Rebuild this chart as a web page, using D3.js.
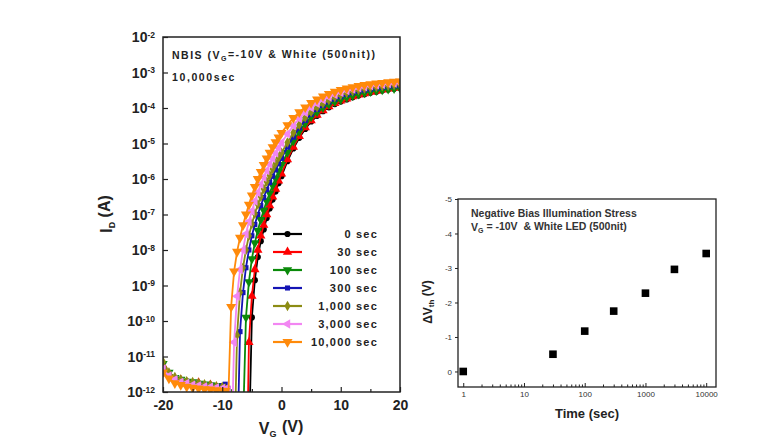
<!DOCTYPE html>
<html><head><meta charset="utf-8">
<script src="https://cdn.jsdelivr.net/npm/d3@7"></script>
<style>body{margin:0;background:#fff;} svg{display:block;font-family:"Liberation Sans",Arial,sans-serif;}</style>
</head><body><svg id="c" width="772" height="445"></svg>
<script>
// ---------- data: transfer curves (log10 of I_D in A) ----------
const vg = [-20,-19,-18,-17,-16,-15,-14,-13,-12,-11,-10,-9.5,-9,-8.5,-8,-7.5,-7,-6.5,-6,-5.5,-5,-4.5,-4,-3.5,-3,-2.5,-2,-1.5,-1,-0.5,0,1,2,3,4,5,6,7,8,9,10,11,12,13,14,15,16,17,18,19,20];
const logId_0s = [-11.2,-11.5,-11.6,-11.68,-11.7,-11.75,-11.78,-11.8,-11.82,-11.85,-11.88,-12.1,-12.2,-12.3,-12.3,-12.4,-12.4,-12.5,-12.6,-13.5,-9.9,-8.85,-8.2,-7.75,-7.42,-7.1,-6.83,-6.58,-6.35,-6.12,-5.92,-5.5,-5.14,-4.84,-4.59,-4.38,-4.22,-4.09,-3.98,-3.89,-3.82,-3.76,-3.7,-3.65,-3.61,-3.57,-3.54,-3.51,-3.48,-3.46,-3.44];
const logId_30s = [-11.25,-11.48,-11.62,-11.66,-11.72,-11.76,-11.74,-11.82,-11.8,-11.86,-11.9,-12.1,-12.2,-12.3,-12.3,-12.4,-12.4,-12.5,-16,-10.6,-9.3,-8.55,-8.0,-7.6,-7.3,-7.0,-6.75,-6.5,-6.28,-6.05,-5.85,-5.45,-5.1,-4.8,-4.55,-4.35,-4.2,-4.07,-3.96,-3.87,-3.8,-3.74,-3.68,-3.63,-3.59,-3.55,-3.52,-3.49,-3.46,-3.44,-3.42];
const logId_100s = [-11.2,-11.45,-11.6,-11.65,-11.7,-11.72,-11.76,-11.78,-11.8,-11.82,-11.86,-11.9,-12.0,-12.1,-12.2,-12.3,-12.4,-13,-9.9,-8.9,-8.25,-7.8,-7.45,-7.15,-6.88,-6.62,-6.4,-6.18,-5.98,-5.78,-5.6,-5.25,-4.93,-4.66,-4.43,-4.25,-4.11,-3.99,-3.9,-3.82,-3.76,-3.7,-3.65,-3.61,-3.57,-3.54,-3.51,-3.49,-3.47,-3.45,-3.44];
const logId_300s = [-11.3,-11.5,-11.62,-11.7,-11.74,-11.76,-11.8,-11.8,-11.84,-11.85,-11.82,-11.78,-11.9,-12.05,-12.2,-14,-10.3,-9.2,-8.5,-8.0,-7.6,-7.28,-7.0,-6.75,-6.52,-6.3,-6.1,-5.92,-5.74,-5.57,-5.42,-5.1,-4.82,-4.56,-4.35,-4.18,-4.04,-3.93,-3.83,-3.75,-3.68,-3.62,-3.57,-3.53,-3.5,-3.47,-3.44,-3.42,-3.4,-3.38,-3.37];
const logId_1000s = [-11.15,-11.45,-11.58,-11.65,-11.7,-11.72,-11.75,-11.78,-11.8,-11.84,-11.86,-11.9,-12.0,-12.1,-14,-10.4,-9.2,-8.5,-8.0,-7.6,-7.27,-6.98,-6.72,-6.5,-6.28,-6.08,-5.9,-5.72,-5.56,-5.4,-5.26,-4.97,-4.7,-4.47,-4.27,-4.11,-3.98,-3.87,-3.78,-3.7,-3.63,-3.58,-3.53,-3.49,-3.46,-3.43,-3.41,-3.39,-3.37,-3.35,-3.34];
const logId_3000s = [-11.35,-11.55,-11.65,-11.72,-11.75,-11.8,-11.82,-11.85,-11.86,-11.88,-11.9,-11.92,-11.95,-14,-10.6,-9.3,-8.55,-8.0,-7.55,-7.2,-6.9,-6.62,-6.38,-6.15,-5.95,-5.76,-5.58,-5.42,-5.27,-5.12,-4.98,-4.73,-4.5,-4.3,-4.13,-3.99,-3.87,-3.77,-3.69,-3.62,-3.56,-3.51,-3.47,-3.43,-3.4,-3.37,-3.35,-3.33,-3.31,-3.3,-3.29];
const logId_10000s = [-11.45,-11.62,-11.75,-11.8,-11.85,-11.88,-11.9,-11.92,-11.93,-11.95,-11.96,-11.97,-12.3,-9.6,-8.6,-8.05,-7.65,-7.3,-7.0,-6.72,-6.46,-6.22,-6.0,-5.8,-5.6,-5.42,-5.26,-5.1,-4.96,-4.83,-4.7,-4.48,-4.28,-4.12,-3.98,-3.86,-3.76,-3.67,-3.6,-3.54,-3.49,-3.45,-3.41,-3.38,-3.35,-3.33,-3.31,-3.29,-3.27,-3.26,-3.25];
const seriesLabels = ["0 sec","30 sec","100 sec","300 sec","1,000 sec","3,000 sec","10,000 sec"];
const seriesColors = ["#000000","#ff0000","#0a8a0a","#1414b4","#8c8c14","#f286f2","#ff8a0a"];
const seriesData = [logId_0s,logId_30s,logId_100s,logId_300s,logId_1000s,logId_3000s,logId_10000s];
const yTickExpL = [-12,-11,-10,-9,-8,-7,-6,-5,-4,-3,-2];
const xTicksL = [-20,-10,0,10,20];
const xMinorL = [-15,-5,5,15];

// ---------- data: threshold voltage shift ----------
const stressTime = [1,30,100,300,1000,3000,10000];
const dVth = [0,-0.5,-1.17,-1.75,-2.27,-2.96,-3.42];
const yTicksR = [-5,-4,-3,-2,-1,0];
const xTicksR = [1,10,100,1000,10000];

const svg = d3.select("#c");

// ================= LEFT CHART =================
const x = d3.scaleLinear().domain([-20,20]).range([163,400]);
const y = d3.scaleLog().domain([1e-12,1e-2]).range([392,37]);

svg.append("defs").append("clipPath").attr("id","clipL")
  .append("rect").attr("x",163).attr("y",37).attr("width",237).attr("height",355);

const symTypes = [
  {t:d3.symbolCircle, r:0, s:30},
  {t:d3.symbolTriangle, r:0, s:38},
  {t:d3.symbolTriangle, r:180, s:38},
  {t:d3.symbolSquare, r:0, s:26},
  {t:d3.symbolDiamond, r:0, s:32},
  {t:d3.symbolTriangle, r:-90, s:38},
  {t:d3.symbolTriangle, r:180, s:44}
];

const plotL = svg.append("g").attr("clip-path","url(#clipL)");
const line = d3.line().x(d=>x(d[0])).y(d=>y(Math.pow(10,d[1])));
seriesData.forEach((arr,i)=>{
  const pts = vg.map((v,j)=>[v,arr[j]]);
  const g = plotL.append("g");
  g.append("path").datum(pts).attr("d",line).attr("fill","none")
    .attr("stroke",seriesColors[i]).attr("stroke-width",1.8);
  const sym = d3.symbol().type(symTypes[i].t).size(symTypes[i].s);
  g.selectAll("path.m").data(pts).join("path").attr("class","m")
    .attr("d",sym)
    .attr("transform",d=>`translate(${x(d[0])},${y(Math.pow(10,d[1]))}) rotate(${symTypes[i].r})`)
    .attr("fill",seriesColors[i]);
});

// axes
const axBL = svg.append("g").attr("transform","translate(0,392)")
  .call(d3.axisBottom(x).tickValues(xTicksL).tickSize(-5).tickPadding(8).tickFormat(d=>String(d)));
axBL.select(".domain").remove();
axBL.selectAll("text").attr("font-size",14).attr("font-weight","bold").attr("fill","#222");
axBL.selectAll("line").attr("stroke","#222").attr("stroke-width",1.2);
const axBLm = svg.append("g").attr("transform","translate(0,392)")
  .call(d3.axisBottom(x).tickValues(xMinorL).tickSize(-3).tickFormat(""));
axBLm.select(".domain").remove();
axBLm.selectAll("line").attr("stroke","#222").attr("stroke-width",1.2);

const axLL = svg.append("g").attr("transform","translate(163,0)")
  .call(d3.axisLeft(y).tickValues(yTickExpL.map(e=>Math.pow(10,e))).tickSize(-5).tickPadding(8).tickFormat(""));
axLL.select(".domain").remove();
axLL.selectAll("line").attr("stroke","#222").attr("stroke-width",1.2);
axLL.selectAll(".tick").each(function(d,i){
  const t = d3.select(this).append("text").attr("x",-8).attr("dy","0.35em")
    .attr("text-anchor","end").attr("font-size",14).attr("font-weight","bold").attr("fill","#222");
  t.append("tspan").text("10");
  t.append("tspan").attr("dy","-0.55em").attr("font-size",8.5).text(String(yTickExpL[i]));
});

svg.append("rect").attr("x",163).attr("y",37).attr("width",237).attr("height",355)
  .attr("fill","none").attr("stroke","#222").attr("stroke-width",1.5);

// axis titles
const xtL = svg.append("text").attr("x",281).attr("y",434).attr("text-anchor","middle")
  .attr("font-size",16).attr("font-weight","bold").attr("fill","#222");
xtL.append("tspan").text("V");
xtL.append("tspan").attr("dy","0.3em").attr("font-size",9).text("G");
xtL.append("tspan").attr("dy","-0.3em").attr("dx",1).text(" (V)");

const ytL = svg.append("text").attr("transform","translate(112,214) rotate(-90)").attr("text-anchor","middle")
  .attr("font-size",16).attr("font-weight","bold").attr("fill","#222");
ytL.append("tspan").text("I");
ytL.append("tspan").attr("dy","0.3em").attr("font-size",9).text("D");
ytL.append("tspan").attr("dy","-0.3em").text(" (A)");

// annotations
const an1 = svg.append("text").attr("x",172).attr("y",59).attr("font-size",10.5)
  .attr("font-weight","bold").attr("fill","#222").attr("letter-spacing",1.5);
an1.append("tspan").text("NBIS (V");
an1.append("tspan").attr("dy","0.3em").attr("font-size",7).text("G");
an1.append("tspan").attr("dy","-0.3em").text("=-10V & White (500nit))");
svg.append("text").attr("x",172).attr("y",81).attr("font-size",10.5)
  .attr("font-weight","bold").attr("fill","#222").attr("letter-spacing",1.6).text("10,000sec");

// legend
seriesLabels.forEach((lab,i)=>{
  const yy = 234 + i*18;
  const g = svg.append("g");
  g.append("line").attr("x1",273).attr("x2",302).attr("y1",yy).attr("y2",yy)
    .attr("stroke",seriesColors[i]).attr("stroke-width",2.2);
  g.append("path").attr("d",d3.symbol().type(symTypes[i].t).size(symTypes[i].s)())
    .attr("transform",`translate(287.5,${yy}) rotate(${symTypes[i].r})`).attr("fill",seriesColors[i]);
  g.append("text").attr("x",378).attr("y",yy).attr("dy","0.35em").attr("text-anchor","end")
    .attr("font-size",11).attr("font-weight","bold").attr("fill","#222").attr("letter-spacing",1.2).text(lab);
});

// ================= RIGHT CHART =================
const xr = d3.scaleLog().domain([0.82,14500]).range([458,716]);
const yr = d3.scaleLinear().domain([0.45,-5]).range([387,199]);

const axBR = svg.append("g").attr("transform","translate(0,387)")
  .call(d3.axisBottom(xr).tickValues(xTicksR).tickSize(-4).tickPadding(4).tickFormat(d=>String(d)));
axBR.select(".domain").remove();
axBR.selectAll("text").attr("font-size",8).attr("fill","#333");
axBR.selectAll("line").attr("stroke","#222");
const minorR = [];
xTicksR.forEach(b=>{ for(let k=2;k<10;k++){ const v=b*k; if(v<14500) minorR.push(v);} });
const axBRm = svg.append("g").attr("transform","translate(0,387)")
  .call(d3.axisBottom(xr).tickValues(minorR).tickSize(-2.5).tickFormat(""));
axBRm.select(".domain").remove();
axBRm.selectAll("line").attr("stroke","#222");

const axLR = svg.append("g").attr("transform","translate(458,0)")
  .call(d3.axisLeft(yr).tickValues(yTicksR).tickSize(3).tickPadding(3).tickFormat(d=>String(d)));
axLR.select(".domain").remove();
axLR.selectAll("text").attr("font-size",8).attr("fill","#333");
axLR.selectAll("line").attr("stroke","#222");

svg.append("rect").attr("x",458).attr("y",199).attr("width",258).attr("height",188)
  .attr("fill","none").attr("stroke","#222").attr("stroke-width",1.3);

svg.append("g").selectAll("rect.pt").data(stressTime.map((t,i)=>[t,dVth[i]])).join("rect")
  .attr("x",d=>xr(d[0])-3.8).attr("y",d=>yr(d[1])-3.8).attr("width",7.6).attr("height",7.6).attr("fill","#000");

svg.append("text").attr("x",587).attr("y",418).attr("text-anchor","middle")
  .attr("font-size",13).attr("font-weight","bold").attr("fill","#222").text("Time (sec)");
const ytR = svg.append("text").attr("transform","translate(432,302) rotate(-90)").attr("text-anchor","middle")
  .attr("font-size",12).attr("font-weight","bold").attr("fill","#222");
ytR.append("tspan").text("\u0394V");
ytR.append("tspan").attr("dy","0.3em").attr("font-size",8).text("th");
ytR.append("tspan").attr("dy","-0.3em").text(" (V)");

svg.append("text").attr("x",471).attr("y",216.5).attr("font-size",10.5).attr("font-weight","bold")
  .attr("fill","#333").text("Negative Bias Illumination Stress");
const an2 = svg.append("text").attr("x",471).attr("y",231).attr("font-size",10.5).attr("font-weight","bold").attr("fill","#333");
an2.append("tspan").text("V");
an2.append("tspan").attr("dy","0.3em").attr("font-size",7).text("G");
an2.append("tspan").attr("dy","-0.3em").attr("xml:space","preserve").text(" = -10V  & White LED (500nit)");
</script></body></html>
